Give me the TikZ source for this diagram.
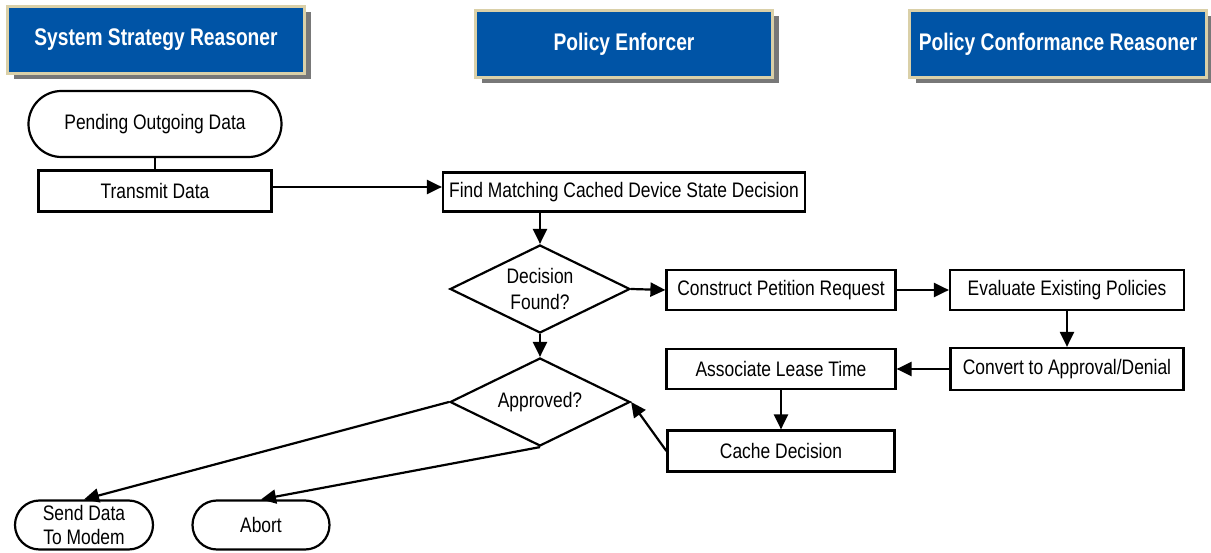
\documentclass[tikz,border=0pt]{standalone}
\usepackage{fontspec}
\setmainfont{Liberation Sans}
\newfontfamily\bodyfont[FakeStretch=0.83]{Liberation Sans}
\newfontfamily\hdrfont[FakeStretch=0.8]{Liberation Sans}
\usetikzlibrary{shapes.geometric,shapes.misc,arrows.meta,shadows}
\definecolor{hdrblue}{RGB}{0,84,166}
\definecolor{hdrborder}{RGB}{218,208,168}
\definecolor{hdrshadow}{RGB}{120,120,120}
\begin{document}
\begin{tikzpicture}[x=1pt,y=-1pt,
  hdr/.style={fill=hdrblue, draw=hdrborder, line width=2.5pt, minimum width=297pt, minimum height=67pt,
    text=white, font=\hdrfont\bfseries\fontsize{24}{28}\selectfont, inner sep=0pt,
    drop shadow={shadow xshift=6pt, shadow yshift=-6pt, fill=hdrshadow, opacity=1}},
  proc/.style={draw, line width=2.2pt, minimum height=40pt, font=\bodyfont\fontsize{21}{24}\selectfont, inner sep=0pt},
  term/.style={draw, rounded rectangle, line width=2.2pt, font=\bodyfont\fontsize{21}{24}\selectfont, align=center, inner sep=0pt},
  dec/.style={draw, diamond, aspect=2.05, line width=2.2pt, minimum width=180pt, minimum height=88pt, inner sep=0pt,
    align=center, font=\bodyfont\fontsize{21}{26}\selectfont},
  arr/.style={line width=2.2pt, -{Triangle[length=15pt,width=14pt]}},
  plain/.style={line width=2.2pt}]
\useasboundingbox (0,0) rectangle (1211,553);
\node[hdr] (h1) at (156,40) {System Strategy Reasoner};
\node[hdr] (h2) at (624,44) {Policy Enforcer};
\node[hdr] (h3) at (1058,44) {Policy Conformance Reasoner};

\node[term, minimum width=253pt, minimum height=66pt] (pod) at (155,124) {Pending Outgoing Data};
\node[proc, minimum width=233pt, minimum height=41pt] (td) at (155,191) {Transmit Data};
\node[proc, minimum width=362pt, minimum height=39pt] (fm) at (624,192) {Find Matching Cached Device State Decision};
\node[dec] (df) at (540,289) {Decision\\Found?};
\node[proc, minimum width=229pt] (cp) at (781,290) {Construct Petition Request};
\node[proc, minimum width=234pt] (ee) at (1067,290) {Evaluate Existing Policies};
\node[proc, minimum width=233pt, minimum height=42pt] (ca) at (1067,369) {Convert to Approval/Denial};
\node[proc, minimum width=229pt] (al) at (781,369) {Associate Lease Time};
\node[proc, minimum width=227pt, minimum height=41pt] (cd) at (781,451) {Cache Decision};
\node[dec] (ap) at (540,402) {Approved?};
\node[term, minimum width=138pt, minimum height=49pt] (sd) at (84,525) {Send Data\\To Modem};
\node[term, minimum width=137pt, minimum height=49pt] (ab) at (261,525) {Abort};

\draw[plain] (pod.south) -- (td.north);
\draw[arr] ([yshift=4pt]td.east) -- ([yshift=4pt]td.east -| fm.west);
\draw[arr] (fm.south -| df.north) -- (df.north);
\draw[arr] (df.east) -- (cp.west);
\draw[arr] (cp.east) -- (ee.west);
\draw[arr] (ee.south) -- (ca.north);
\draw[arr] (ca.west) -- (al.east);
\draw[arr] (al.south) -- (cd.north);
\draw[arr] (df.south) -- (ap.north);
\draw[arr] (cd.west) -- (ap.east);
\draw[arr] (ap.west) -- (sd.north);
\draw[arr] (ap.south) -- (ab.north);
\end{tikzpicture}
\end{document}
